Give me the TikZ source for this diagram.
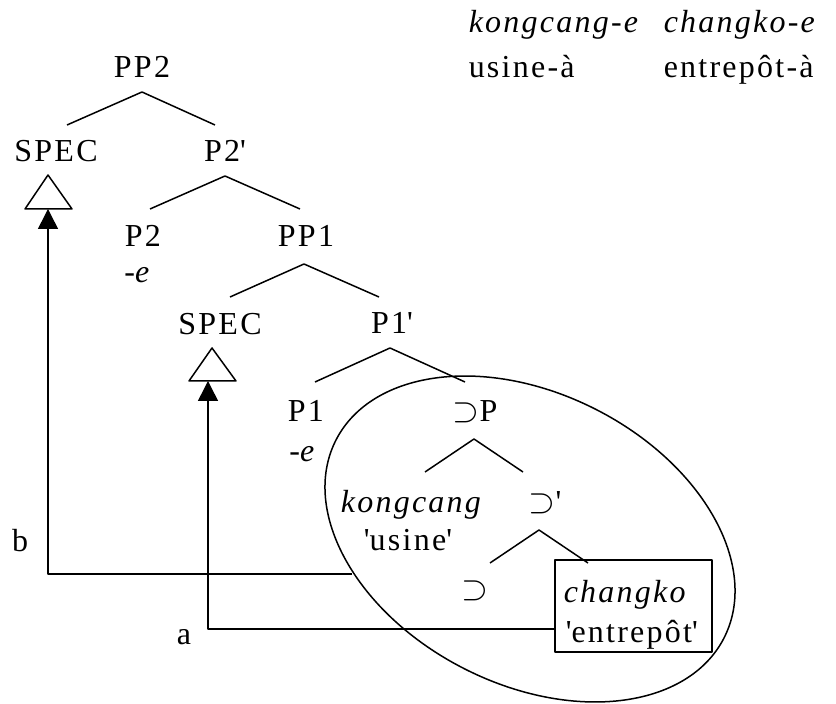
\documentclass[tikz,border=0pt]{standalone}
\usepackage{fontspec}
\setmainfont{Liberation Serif}[LetterSpace=7]
\usetikzlibrary{arrows.meta}
\newcommand{\qt}[1]{\textquotesingle#1\textquotesingle}
\begin{document}
\begin{tikzpicture}[x=0.5pt, y=-0.5pt, line width=0.75pt, line join=round,
  every node/.style={inner sep=0pt, anchor=base, font=\fontsize{16}{19}\selectfont},
  uparrow/.style={-{Triangle[width=10pt,length=10pt]}}]
  \useasboundingbox (0,0) rectangle (836,704);

  % --- gloss (top right) ---
  \node[anchor=base west] (gl1a) at (468,33) {\textit{kongcang-e}};
  \node[anchor=base west] (gl1b) at (468,78) {usine-à};
  \node[anchor=base west] (gl2a) at (663,33) {\textit{changko-e}};
  \node[anchor=base west] (gl2b) at (663,78) {entrepôt-à};

  % --- tree labels ---
  \node (pp2)   at (142,78)  {PP2};
  \node (spec2) at (56,162)  {SPEC};
  \node (p2bar) at (225,162) {P2\textquotesingle};
  \node (p2)    at (143,247) {P2};
  \node (p2suf) at (138,283) {-\textit{e}};
  \node (pp1)   at (306,247) {PP1};
  \node (spec1) at (220,335) {SPEC};
  \node (p1bar) at (392,334) {P1\textquotesingle};
  \node (p1)    at (306,422) {P1};
  \node (p1suf) at (303,462) {-\textit{e}};
  \node (subp)  at (475,422) {$\supset$P};
  \node (kong)  at (412,513) {\textit{kongcang}};
  \node (usine) at (408,551) {\qt{usine}};
  \node (subbar) at (545,513) {$\supset$\textquotesingle};
  \node (subhd) at (475,600) {$\supset$};
  \node[anchor=base west] (chang) at (563,603) {\textit{changko}};
  \node[anchor=base west] (entre) at (565,643) {\qt{entrepôt}};
  \node[draw, anchor=center, minimum width=78.5pt, minimum height=46pt] (box) at (633.5,606) {};
  \node (lblb)  at (20,552)  {b};
  \node (lbla)  at (184,645) {a};

  % --- branches: apex, left end, right end ---
  \coordinate (pp2-t) at (142,92);  \coordinate (pp2-l) at (67,125);  \coordinate (pp2-r) at (215,125);
  \coordinate (p2b-t) at (225,176); \coordinate (p2b-l) at (150,209); \coordinate (p2b-r) at (300,209);
  \coordinate (pp1-t) at (304,264); \coordinate (pp1-l) at (230,297); \coordinate (pp1-r) at (379,297);
  \coordinate (p1b-t) at (390,348); \coordinate (p1b-l) at (315,382); \coordinate (p1b-r) at (465,382);
  \coordinate (sp-t)  at (474,439); \coordinate (sp-l)  at (425,472); \coordinate (sp-r)  at (523,472);
  \coordinate (sb-t)  at (539,530); \coordinate (sb-l)  at (490,563); \coordinate (sb-r)  at (588,563);
  \foreach \n in {pp2,p2b,pp1,p1b,sp,sb}
    \draw (\n-l) -- (\n-t) -- (\n-r);

  % --- SPEC triangles ---
  \draw (48,175) -- (25,209) -- (72,209) -- cycle;
  \draw (212,348) -- (189,381) -- (236,381) -- cycle;

  % --- movement paths ---
  \coordinate (b-end) at (352,574);
  \coordinate (b-corner) at (48,574);
  \coordinate (a-corner) at (208,629);
  \draw[uparrow] (b-end) -- (b-corner) -- (48,209);
  \draw[uparrow] (box.west |- a-corner) -- (a-corner) -- (208,381);

  % --- circled constituent ---
  \coordinate (el-c) at (530,539);
  \draw[rotate around={-27:(el-c)}] (el-c) ellipse [x radius=108.9pt, y radius=72.7pt];
\end{tikzpicture}
\end{document}
